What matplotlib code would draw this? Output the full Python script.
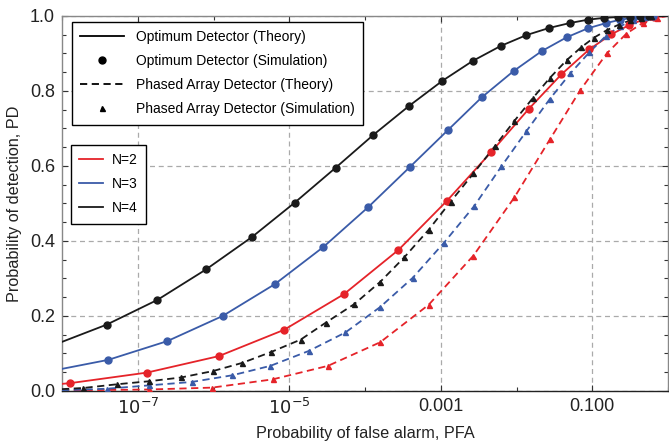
import matplotlib
matplotlib.use("Agg")
import matplotlib.pyplot as plt
from matplotlib.lines import Line2D
from matplotlib.ticker import FixedLocator, FixedFormatter

plt.rcParams['font.family'] = ['Liberation Sans', 'DejaVu Sans']

# log10(PFA) and PD
# optimum detector, simulation points
opt_n4_x = [-7.41, -6.74, -6.10, -5.49, -4.93, -4.39, -3.89, -3.42, -2.98, -2.58,
            -2.21, -1.87, -1.57, -1.30, -1.06, -0.84, -0.66, -0.50, -0.37, -0.25]
opt_n4_y = [0.177, 0.243, 0.324, 0.411, 0.502, 0.595, 0.683, 0.760, 0.827, 0.880,
            0.920, 0.949, 0.968, 0.981, 0.990, 0.995, 0.997, 0.998, 0.999, 1.0]
opt_n3_x = [-7.39, -6.61, -5.88, -5.19, -4.55, -3.96, -3.41, -2.91, -2.46, -2.04,
            -1.67, -1.34, -1.06, -0.82, -0.63, -0.47, -0.33, -0.20]
opt_n3_y = [0.083, 0.133, 0.200, 0.285, 0.384, 0.490, 0.597, 0.695, 0.783, 0.853,
            0.906, 0.943, 0.967, 0.981, 0.990, 0.995, 0.998, 0.999]
opt_n2_x = [-7.89, -6.88, -5.93, -5.07, -4.28, -3.56, -2.92, -2.34, -1.84, -1.41,
            -1.04, -0.75, -0.51, -0.33, -0.18]
opt_n2_y = [0.021, 0.049, 0.093, 0.163, 0.258, 0.376, 0.507, 0.636, 0.752, 0.844,
            0.911, 0.951, 0.976, 0.990, 0.997]

# phased array detector, simulation points
pa_n4_x = [-7.72, -7.27, -6.85, -6.43, -6.01, -5.62, -5.24, -4.85, -4.52, -4.14,
           -3.80, -3.48, -3.16, -2.87, -2.57, -2.29, -2.03, -1.79, -1.56, -1.34,
           -1.15, -0.98, -0.81, -0.65, -0.50, -0.36, -0.22]
pa_n4_y = [0.008, 0.018, 0.026, 0.036, 0.053, 0.075, 0.104, 0.137, 0.182, 0.232,
           0.291, 0.357, 0.430, 0.505, 0.580, 0.652, 0.720, 0.780, 0.835, 0.882,
           0.916, 0.942, 0.962, 0.977, 0.988, 0.995, 0.999]
pa_n3_x = [-7.41, -6.85, -6.29, -5.75, -5.25, -4.74, -4.26, -3.80, -3.37, -2.96,
           -2.56, -2.20, -1.87, -1.56, -1.29, -1.04, -0.82, -0.63, -0.46, -0.30]
pa_n3_y = [0.006, 0.015, 0.024, 0.042, 0.067, 0.107, 0.156, 0.224, 0.302, 0.395,
           0.493, 0.599, 0.693, 0.779, 0.847, 0.903, 0.947, 0.973, 0.988, 0.996]
pa_n2_x = [-7.72, -6.85, -6.02, -5.22, -4.49, -3.80, -3.16, -2.57, -2.03, -1.56,
           -1.16, -0.81, -0.55, -0.33, -0.15]
pa_n2_y = [0.002, 0.004, 0.009, 0.031, 0.067, 0.130, 0.230, 0.361, 0.516, 0.671,
           0.802, 0.900, 0.953, 0.982, 0.995]

# theory curves: value at the left edge (PFA=1e-8); all end at 1.0 for PFA=1
opt_start = {4: 0.131, 3: 0.059, 2: 0.019}
pa_start = {4: 0.005, 3: 0.002, 2: 0.001}

x_major = [1e-7, 1e-5, 1e-3, 1e-1]
x_major_labels = ['$10^{-7}$', '$10^{-5}$', '0.001', '0.100']
x_minor = [1e-8, 1e-6, 1e-4, 1e-2, 1.0]
y_major = [0.0, 0.2, 0.4, 0.6, 0.8, 1.0]

colors = {2: '#e52329', 3: '#3a5ba8', 4: '#1a1a1a'}

opt = {4: (opt_n4_x, opt_n4_y), 3: (opt_n3_x, opt_n3_y), 2: (opt_n2_x, opt_n2_y)}
pa = {4: (pa_n4_x, pa_n4_y), 3: (pa_n3_x, pa_n3_y), 2: (pa_n2_x, pa_n2_y)}

fig = plt.figure(figsize=(6.69, 4.47), dpi=100)
ax = fig.add_axes([0.0927, 0.1253, 0.906, 0.839])

for n in (2, 3, 4):
    c = colors[n]
    xs, ys = opt[n]
    lx = [1e-8] + [10 ** v for v in xs] + [1.0]
    ly = [opt_start[n]] + ys + [1.0]
    ax.plot(lx, ly, color=c, lw=1.3, zorder=3)
    ax.plot([10 ** v for v in xs], ys, 'o', color=c, ms=5, zorder=4)

    xs, ys = pa[n]
    lx = [1e-8] + [10 ** v for v in xs] + [1.0]
    ly = [pa_start[n]] + ys + [1.0]
    ax.plot(lx, ly, color=c, lw=1.3, ls=(0, (4, 2.5)), zorder=3)
    ax.plot([10 ** v for v in xs], ys, '^', color=c, ms=3.6, zorder=4)

ax.set_xscale('log')
ax.set_xlim(1e-8, 1.0)
ax.set_ylim(0, 1.0)

ax.xaxis.set_major_locator(FixedLocator(x_major))
ax.xaxis.set_major_formatter(FixedFormatter(x_major_labels))
ax.xaxis.set_minor_locator(FixedLocator(x_minor))
ax.xaxis.set_minor_formatter(FixedFormatter([''] * len(x_minor)))
ax.yaxis.set_major_locator(FixedLocator(y_major))
ax.set_yticklabels(['%.1f' % v for v in y_major])
ax.yaxis.set_minor_locator(FixedLocator([i * 0.05 for i in range(21)]))

ax.tick_params(which='both', direction='in', top=True, right=True,
               labelsize=13, colors='#333333', labelcolor='#222222')
ax.tick_params(which='major', length=4, width=0.8, pad=5)
ax.tick_params(which='minor', length=3, width=0.8)

ax.grid(True, which='major', color='#aaaaaa', ls=(0, (4, 3)), lw=0.9)
ax.set_axisbelow(True)
for side in ('left', 'top', 'right'):
    ax.spines[side].set_color('#888888')
ax.spines['bottom'].set_color('#222222')
for s in ax.spines.values():
    s.set_linewidth(1.0)

ax.set_xlabel('Probability of false alarm, PFA', fontsize=11.7, color='#222222', labelpad=6)
ax.set_ylabel('Probability of detection, PD', fontsize=11.7, color='#222222', labelpad=6)

h1 = [Line2D([], [], color='black', lw=1.3),
      Line2D([], [], color='black', ls='none', marker='o', ms=5),
      Line2D([], [], color='black', lw=1.3, ls=(0, (4, 2.5))),
      Line2D([], [], color='black', ls='none', marker='^', ms=3.6)]
l1 = ax.legend(h1, ['Optimum Detector (Theory)', 'Optimum Detector (Simulation)',
                    'Phased Array Detector (Theory)', 'Phased Array Detector (Simulation)'],
               loc='upper left', bbox_to_anchor=(0.016, 0.984), fontsize=10,
               fancybox=False, framealpha=1, edgecolor='black', handlelength=3.2,
               handletextpad=0.8, labelspacing=0.72, borderpad=0.6, borderaxespad=0)
l1.get_frame().set_linewidth(1.0)
ax.add_artist(l1)

h2 = [Line2D([], [], color=colors[n], lw=1.3) for n in (2, 3, 4)]
l2 = ax.legend(h2, ['N=2', 'N=3', 'N=4'], loc='upper left',
               bbox_to_anchor=(0.015, 0.656), fontsize=10, fancybox=False,
               framealpha=1, edgecolor='black', handlelength=1.7,
               handletextpad=0.6, labelspacing=0.72, borderpad=0.6, borderaxespad=0)
l2.get_frame().set_linewidth(1.0)

fig.savefig('out.png', dpi=100)
